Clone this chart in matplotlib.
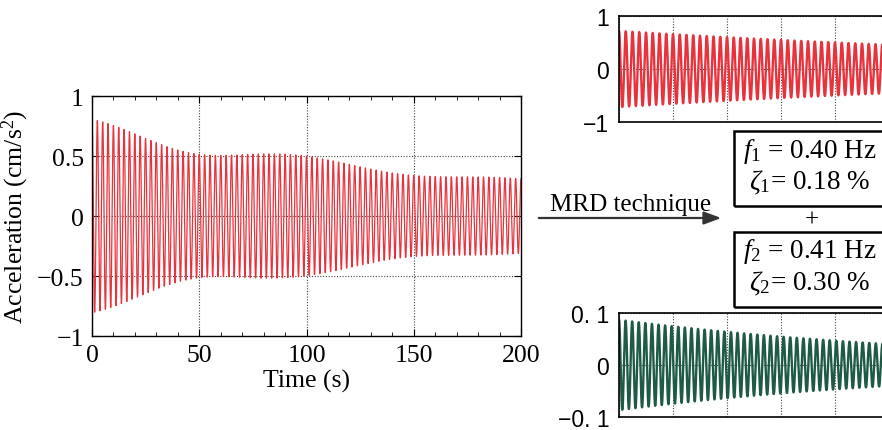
import numpy as np
import matplotlib
matplotlib.use("Agg")
import matplotlib.pyplot as plt
from matplotlib.patches import Rectangle, FancyArrowPatch
from matplotlib.ticker import MultipleLocator

plt.rcParams['mathtext.fontset'] = 'custom'
plt.rcParams['mathtext.rm'] = 'Liberation Serif'
plt.rcParams['mathtext.it'] = 'Liberation Serif:italic'
plt.rcParams['mathtext.bf'] = 'Liberation Serif:bold'

# ---- Data (modal parameters of the two modes) ----
mode_freqs_hz = [0.40, 0.41]          # f1, f2
mode_damping = [0.0018, 0.0030]       # zeta1, zeta2 (0.18 %, 0.30 %)
mode_amps = [0.72, 0.087]             # initial amplitudes (cm/s^2)
mode_phase = [0.0, 0.0]
t_end = 200.0
dt = 0.02

left_xticks = [0, 50, 100, 150, 200]
left_yticks = [-1, -0.5, 0, 0.5, 1]
left_yticklabels = ["\u22121", "\u22120.5", "0", "0.5", "1"]
top_yticks = [-1, 0, 1]
top_yticklabels = ["\u22121", "0", "1"]
bot_yticks = [-0.1, 0, 0.1]
bot_yticklabels = ["\u22120. 1", "0", "0. 1"]

box_texts = [[r"$f_{\mathit{1}}$ = 0.40 Hz", r"$\zeta_{\mathit{1}}$= 0.18 %"],
             [r"$f_{\mathit{2}}$ = 0.41 Hz", r"$\zeta_{\mathit{2}}$= 0.30 %"]]

t = np.arange(0, t_end + dt, dt)
modes = []
for f, z, a, p in zip(mode_freqs_hz, mode_damping, mode_amps, mode_phase):
    w = 2 * np.pi * f
    modes.append(a * np.exp(-z * w * t) * np.cos(w * np.sqrt(1 - z**2) * t + p))
total = modes[0] + modes[1]

RED = "#e8323c"
GREEN = "#1e5a46"
W, H = 882, 431
fig = plt.figure(figsize=(W / 100, H / 100), dpi=100)

def fx(px):
    return px / W

def fy(py):
    return (H - py) / H

serif = "Liberation Serif"
sans = "Liberation Sans"

# ---- Left panel ----
ax = fig.add_axes([fx(92), fy(337), (521 - 92) / W, (337 - 97) / H])
ax.plot(t, total, color=RED, lw=0.9)
ax.set_xlim(0, 200)
ax.set_ylim(-1, 1)
ax.set_xticks(left_xticks)
ax.set_yticks(left_yticks)
ax.set_yticklabels(left_yticklabels)
ax.xaxis.set_minor_locator(MultipleLocator(10))
ax.tick_params(which="both", direction="in", top=True, right=True,
               labelsize=18.5, pad=6)
ax.tick_params(which="minor", length=3)
ax.tick_params(which="major", length=5)
for lab in ax.get_xticklabels() + ax.get_yticklabels():
    lab.set_fontfamily(serif)
ax.grid(True, linestyle=(0, (1, 1.5)), color="#444444", lw=0.8)
ax.set_xlabel("Time (s)", fontfamily=serif, fontsize=18.5, labelpad=2)
ax.set_ylabel(r"Acceleration (cm/s$^2$)", fontfamily=serif, fontsize=18.5,
              labelpad=4)
for s in ax.spines.values():
    s.set_linewidth(1.0)

# ---- Right panels ----
def right_panel(top_px, bot_px, y, color, yticks, ylabels, ylim):
    a = fig.add_axes([fx(619), fy(bot_px), 540 / W, (bot_px - top_px) / H])
    a.plot(t, y, color=color, lw=1.7)
    a.set_xlim(0, 200)
    a.set_ylim(*ylim)
    a.set_xticks(np.arange(0, 201, 20))
    a.set_xticklabels([])
    a.set_yticks(yticks)
    a.set_yticklabels(ylabels)
    a.tick_params(direction="in", length=0, labelsize=16.5, pad=7)
    for lab in a.get_yticklabels():
        lab.set_fontfamily(sans)
    a.grid(True, linestyle=(0, (1, 1.5)), color="#444444", lw=0.8)
    for s in a.spines.values():
        s.set_linewidth(1.2)
    return a

right_panel(17, 123, modes[0], RED, top_yticks, top_yticklabels, (-1, 1))
right_panel(314, 418, modes[1], GREEN, bot_yticks, bot_yticklabels, (-0.1, 0.1))

# ---- Boxes with modal results ----
for (top_px, bot_px), lines in zip([(132, 207), (233, 308)], box_texts):
    fig.add_artist(Rectangle((fx(734), fy(bot_px)), 300 / W, (bot_px - top_px) / H,
                             transform=fig.transFigure, fill=False,
                             edgecolor="black", lw=1.8))
    fig.text(fx(743), fy(top_px + 19), lines[0], fontfamily=serif, fontsize=19.5,
             va="center", ha="left")
    fig.text(fx(749), fy(top_px + 50), lines[1], fontfamily=serif, fontsize=19.5,
             va="center", ha="left")

fig.text(fx(812), fy(221), "+", fontfamily=serif, fontsize=18,
         ha="center", va="center")

# ---- Arrow with label ----
fig.add_artist(FancyArrowPatch((fx(536), fy(219)), (fx(724), fy(219)),
                               transform=fig.transFigure,
                               arrowstyle="-|>,head_length=7,head_width=2.6",
                               color="#333333", lw=1.6, mutation_scale=1.5))
fig.text(fx(550), fy(205), "MRD technique", fontfamily=serif, fontsize=18,
         ha="left", va="center")

fig.savefig("out.png", dpi=100)
